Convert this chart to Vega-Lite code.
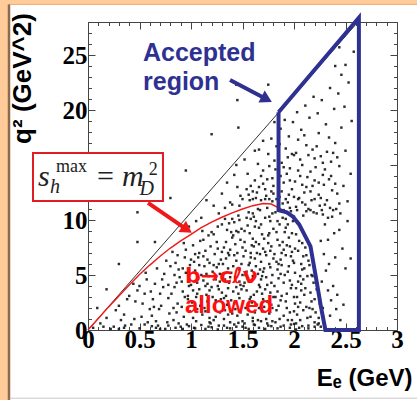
{
  "$schema": "https://vega.github.io/schema/vega-lite/v6.json",
  "width": 309,
  "height": 308,
  "autosize": "none",
  "padding": {"left": 88, "top": 22, "right": 20, "bottom": 70},
  "background": "white",
  "config": {"view": {"stroke": null}},
  "data": {"values": [{}]},
  "datasets": {
    "dots": [
      {"e":0.62,"q":1.3},{"e":0.65,"q":4.2},{"e":0.68,"q":0.4},{"e":0.63,"q":2.8},{"e":0.67,"q":5.6},{"e":0.61,"q":3.5},{"e":0.69,"q":1.9},{"e":0.66,"q":0.2},
      {"e":0.71,"q":2.2},{"e":0.74,"q":5.1},{"e":0.77,"q":0.7},{"e":0.73,"q":3.9},{"e":0.76,"q":6.3},{"e":0.79,"q":1.5},{"e":0.72,"q":4.6},{"e":0.78,"q":2.9},{"e":0.75,"q":0.1},{"e":0.8,"q":5.8},
      {"e":0.81,"q":3.3},{"e":0.83,"q":0.9},{"e":0.85,"q":6.1},{"e":0.87,"q":2.4},{"e":0.89,"q":4.8},{"e":0.82,"q":7.1},{"e":0.86,"q":1.6},{"e":0.88,"q":5.5},{"e":0.84,"q":3.9},{"e":0.9,"q":0.3},{"e":0.83,"q":2.0},{"e":0.87,"q":6.8},
      {"e":0.91,"q":4.4},{"e":0.93,"q":1.2},{"e":0.95,"q":7.3},{"e":0.97,"q":2.8},{"e":0.99,"q":5.9},{"e":0.92,"q":3.5},{"e":0.94,"q":6.6},{"e":0.96,"q":0.5},{"e":0.98,"q":4.0},{"e":0.91,"q":2.1},{"e":0.95,"q":5.2},{"e":0.99,"q":1.7},{"e":0.93,"q":7.9},{"e":0.97,"q":3.1},
      {"e":1.01,"q":2.5},{"e":1.03,"q":6.2},{"e":1.05,"q":0.8},{"e":1.07,"q":4.7},{"e":1.09,"q":8.1},{"e":1.02,"q":3.6},{"e":1.04,"q":5.4},{"e":1.06,"q":1.9},{"e":1.08,"q":7.0},{"e":1.0,"q":4.1},{"e":1.03,"q":0.2},{"e":1.05,"q":3.0},{"e":1.07,"q":6.6},{"e":1.09,"q":2.2},{"e":1.1,"q":5.0},{"e":1.02,"q":7.7},{"e":1.06,"q":4.3},
      {"e":1.11,"q":1.4},{"e":1.13,"q":5.8},{"e":1.15,"q":3.2},{"e":1.17,"q":8.6},{"e":1.19,"q":0.6},{"e":1.12,"q":4.5},{"e":1.14,"q":7.2},{"e":1.16,"q":2.6},{"e":1.18,"q":6.1},{"e":1.2,"q":3.9},{"e":1.11,"q":9.0},{"e":1.13,"q":2.0},{"e":1.15,"q":5.1},{"e":1.17,"q":0.3},{"e":1.19,"q":7.6},{"e":1.12,"q":6.7},{"e":1.16,"q":4.2},{"e":1.18,"q":1.1},
      {"e":1.21,"q":5.3},{"e":1.23,"q":2.1},{"e":1.25,"q":8.0},{"e":1.27,"q":3.7},{"e":1.29,"q":6.4},{"e":1.22,"q":0.9},{"e":1.24,"q":4.6},{"e":1.26,"q":9.4},{"e":1.28,"q":1.6},{"e":1.3,"q":7.1},{"e":1.21,"q":3.0},{"e":1.23,"q":6.9},{"e":1.25,"q":5.7},{"e":1.27,"q":0.4},{"e":1.29,"q":2.8},{"e":1.22,"q":8.7},{"e":1.24,"q":1.2},{"e":1.26,"q":4.0},{"e":1.28,"q":5.1},{"e":1.3,"q":3.4},
      {"e":1.31,"q":6.0},{"e":1.33,"q":1.8},{"e":1.35,"q":9.1},{"e":1.37,"q":4.3},{"e":1.39,"q":2.7},{"e":1.32,"q":7.5},{"e":1.34,"q":3.1},{"e":1.36,"q":5.6},{"e":1.38,"q":0.7},{"e":1.4,"q":8.4},{"e":1.31,"q":4.9},{"e":1.33,"q":10.1},{"e":1.35,"q":2.3},{"e":1.37,"q":6.8},{"e":1.39,"q":5.2},{"e":1.32,"q":1.0},{"e":1.34,"q":8.0},{"e":1.36,"q":3.8},{"e":1.38,"q":7.3},{"e":1.4,"q":1.5},{"e":1.35,"q":0.2},{"e":1.37,"q":9.7},
      {"e":1.41,"q":3.5},{"e":1.43,"q":7.8},{"e":1.45,"q":1.3},{"e":1.47,"q":5.5},{"e":1.49,"q":9.2},{"e":1.42,"q":2.4},{"e":1.44,"q":6.3},{"e":1.46,"q":10.4},{"e":1.48,"q":4.1},{"e":1.5,"q":0.8},{"e":1.41,"q":8.6},{"e":1.43,"q":4.8},{"e":1.45,"q":7.0},{"e":1.47,"q":2.9},{"e":1.49,"q":6.0},{"e":1.42,"q":9.8},{"e":1.44,"q":0.3},{"e":1.46,"q":3.3},{"e":1.48,"q":8.2},{"e":1.5,"q":5.0},{"e":1.43,"q":1.9},{"e":1.47,"q":10.0},{"e":1.49,"q":3.7},
      {"e":1.51,"q":6.7},{"e":1.53,"q":2.0},{"e":1.55,"q":9.5},{"e":1.57,"q":4.4},{"e":1.59,"q":7.7},{"e":1.52,"q":0.6},{"e":1.54,"q":5.3},{"e":1.56,"q":10.7},{"e":1.58,"q":3.0},{"e":1.6,"q":8.3},{"e":1.51,"q":4.0},{"e":1.53,"q":7.2},{"e":1.55,"q":1.4},{"e":1.57,"q":6.1},{"e":1.59,"q":2.5},{"e":1.52,"q":9.0},{"e":1.54,"q":3.6},{"e":1.56,"q":5.9},{"e":1.58,"q":10.1},{"e":1.6,"q":1.1},{"e":1.55,"q":4.7},{"e":1.57,"q":8.8},{"e":1.53,"q":0.2},{"e":1.59,"q":5.4},
      {"e":1.61,"q":3.2},{"e":1.63,"q":8.0},{"e":1.65,"q":5.1},{"e":1.67,"q":10.9},{"e":1.69,"q":1.7},{"e":1.62,"q":6.5},{"e":1.64,"q":2.3},{"e":1.66,"q":9.3},{"e":1.68,"q":4.6},{"e":1.7,"q":7.4},{"e":1.61,"q":0.5},{"e":1.63,"q":5.8},{"e":1.65,"q":11.0},{"e":1.67,"q":3.9},{"e":1.69,"q":8.7},{"e":1.62,"q":1.6},{"e":1.64,"q":7.0},{"e":1.66,"q":4.1},{"e":1.68,"q":6.2},{"e":1.7,"q":2.8},{"e":1.63,"q":9.9},{"e":1.65,"q":0.9},{"e":1.67,"q":6.9},{"e":1.69,"q":4.9},{"e":1.61,"q":10.3},
      {"e":1.71,"q":5.6},{"e":1.73,"q":1.0},{"e":1.75,"q":8.6},{"e":1.77,"q":3.4},{"e":1.79,"q":10.6},{"e":1.72,"q":7.1},{"e":1.74,"q":2.6},{"e":1.76,"q":6.0},{"e":1.78,"q":4.3},{"e":1.8,"q":9.2},{"e":1.71,"q":2.1},{"e":1.73,"q":6.8},{"e":1.75,"q":0.4},{"e":1.77,"q":9.9},{"e":1.79,"q":5.0},{"e":1.72,"q":3.7},{"e":1.74,"q":11.1},{"e":1.76,"q":1.5},{"e":1.78,"q":7.6},{"e":1.8,"q":3.0},{"e":1.73,"q":4.8},{"e":1.75,"q":7.9},{"e":1.77,"q":5.7},{"e":1.79,"q":0.8},{"e":1.71,"q":8.3},
      {"e":1.81,"q":4.0},{"e":1.83,"q":8.9},{"e":1.85,"q":2.2},{"e":1.87,"q":6.4},{"e":1.89,"q":10.2},{"e":1.82,"q":0.7},{"e":1.84,"q":5.5},{"e":1.86,"q":9.6},{"e":1.88,"q":3.1},{"e":1.9,"q":7.3},{"e":1.81,"q":6.9},{"e":1.83,"q":1.8},{"e":1.85,"q":4.7},{"e":1.87,"q":0.3},{"e":1.89,"q":8.0},{"e":1.82,"q":10.7},{"e":1.84,"q":3.5},{"e":1.86,"q":7.7},{"e":1.88,"q":5.9},{"e":1.9,"q":1.3},{"e":1.83,"q":6.2},{"e":1.87,"q":2.7},
      {"e":1.91,"q":5.0},{"e":1.93,"q":2.0},{"e":1.95,"q":8.4},{"e":1.97,"q":3.8},{"e":1.99,"q":9.9},{"e":1.92,"q":6.8},{"e":1.94,"q":0.9},{"e":1.96,"q":4.5},{"e":1.98,"q":7.1},{"e":2.0,"q":1.7},{"e":1.91,"q":8.9},{"e":1.93,"q":3.3},{"e":1.95,"q":5.8},{"e":1.97,"q":0.5},{"e":1.99,"q":6.3},{"e":1.92,"q":2.6},{"e":1.94,"q":9.6},{"e":1.96,"q":7.6},{"e":1.98,"q":4.1},{"e":2.0,"q":3.0},
      {"e":2.01,"q":5.2},{"e":2.03,"q":1.4},{"e":2.05,"q":8.1},{"e":2.07,"q":3.6},{"e":2.09,"q":6.7},{"e":2.02,"q":0.6},{"e":2.04,"q":4.4},{"e":2.06,"q":2.5},{"e":2.08,"q":7.9},{"e":2.1,"q":5.6},{"e":2.01,"q":7.4},{"e":2.03,"q":3.0},{"e":2.05,"q":0.2},{"e":2.07,"q":6.0},{"e":2.09,"q":1.8},{"e":2.02,"q":8.7},{"e":2.04,"q":2.1},{"e":2.06,"q":4.9},
      {"e":2.11,"q":3.8},{"e":2.13,"q":1.1},{"e":2.15,"q":5.9},{"e":2.17,"q":2.6},{"e":2.19,"q":4.3},{"e":2.12,"q":6.8},{"e":2.14,"q":0.4},{"e":2.16,"q":3.4},{"e":2.18,"q":1.9},{"e":2.2,"q":0.7},{"e":2.11,"q":7.5},{"e":2.13,"q":4.9},{"e":2.15,"q":2.0},{"e":2.17,"q":5.0},
      {"e":2.21,"q":1.6},{"e":2.23,"q":0.5},{"e":2.25,"q":2.4},{"e":2.22,"q":3.7},{"e":2.24,"q":1.1},{"e":2.26,"q":0.3},
      {"e":1.02,"q":1.1},{"e":1.04,"q":6.9},{"e":1.06,"q":3.3},{"e":1.08,"q":5.9},{"e":1.1,"q":2.8},{"e":1.12,"q":8.2},{"e":1.14,"q":1.7},{"e":1.16,"q":6.4},{"e":1.18,"q":3.6},{"e":1.2,"q":8.9},
      {"e":1.22,"q":5.9},{"e":1.24,"q":2.7},{"e":1.26,"q":7.4},{"e":1.28,"q":4.4},{"e":1.3,"q":9.6},{"e":1.32,"q":2.9},{"e":1.34,"q":6.5},{"e":1.36,"q":1.4},{"e":1.38,"q":4.8},{"e":1.4,"q":10.1},
      {"e":1.42,"q":6.8},{"e":1.44,"q":3.9},{"e":1.46,"q":8.9},{"e":1.48,"q":1.6},{"e":1.5,"q":7.5},{"e":1.52,"q":4.3},{"e":1.54,"q":10.2},{"e":1.56,"q":2.4},{"e":1.58,"q":6.6},{"e":1.6,"q":4.9},
      {"e":1.62,"q":9.4},{"e":1.64,"q":3.5},{"e":1.66,"q":7.8},{"e":1.68,"q":0.8},{"e":1.7,"q":5.3},{"e":1.72,"q":10.2},{"e":1.74,"q":4.1},{"e":1.76,"q":8.8},{"e":1.78,"q":2.3},{"e":1.8,"q":6.5},
      {"e":1.82,"q":3.0},{"e":1.84,"q":9.9},{"e":1.86,"q":1.0},{"e":1.88,"q":7.0},{"e":1.9,"q":4.3},{"e":1.92,"q":9.3},{"e":1.94,"q":5.3},{"e":1.96,"q":1.6},{"e":1.98,"q":8.8},{"e":2.0,"q":6.1},
      {"e":2.02,"q":3.8},{"e":2.04,"q":7.2},{"e":2.06,"q":0.9},{"e":2.08,"q":5.5},{"e":2.1,"q":3.2},{"e":2.12,"q":2.1},{"e":2.14,"q":6.3},{"e":2.16,"q":1.2},{"e":2.18,"q":4.9},{"e":2.2,"q":2.8},
      {"e":1.33,"q":4.6},{"e":1.41,"q":5.8},{"e":1.53,"q":5.0},{"e":1.61,"q":7.6},{"e":1.69,"q":3.3},{"e":1.77,"q":7.2},{"e":1.85,"q":6.0},{"e":1.93,"q":7.7},{"e":2.01,"q":2.4},{"e":2.09,"q":4.6},
      {"e":1.17,"q":4.9},{"e":1.27,"q":6.0},{"e":1.39,"q":8.9},{"e":1.47,"q":4.4},{"e":1.57,"q":2.8},{"e":1.67,"q":5.5},{"e":1.79,"q":2.0},{"e":1.87,"q":5.1},{"e":1.97,"q":6.7},{"e":2.07,"q":4.2},
      {"e":0.86,"q":4.3},{"e":0.94,"q":3.0},{"e":1.0,"q":6.4},{"e":0.92,"q":5.6},{"e":0.84,"q":5.0},{"e":0.78,"q":4.1},{"e":0.7,"q":3.3},{"e":0.64,"q":2.1},{"e":1.08,"q":3.7},{"e":1.14,"q":4.0},
      {"e":1.36,"q":7.0},{"e":1.44,"q":9.0},{"e":1.52,"q":8.0},{"e":1.6,"q":10.6},{"e":1.68,"q":9.6},{"e":1.76,"q":10.3},{"e":1.84,"q":8.2},{"e":1.92,"q":10.1},{"e":1.58,"q":7.0},{"e":1.66,"q":2.0},
      {"e":2.33,"q":8.2},{"e":2.36,"q":2.7},{"e":2.31,"q":5.4},{"e":2.4,"q":6.6},{"e":2.38,"q":4.0},{"e":2.44,"q":9.1},{"e":2.35,"q":1.3},{"e":2.29,"q":6.9},{"e":2.42,"q":3.2},{"e":2.47,"q":7.4},{"e":2.3,"q":9.6},{"e":2.37,"q":10.3},{"e":2.5,"q":5.6},{"e":2.33,"q":3.6},{"e":2.27,"q":4.4},{"e":2.45,"q":0.9},{"e":2.39,"q":8.8},{"e":2.52,"q":9.9},{"e":2.26,"q":8.1},{"e":2.41,"q":1.9},{"e":2.34,"q":6.0},{"e":2.48,"q":2.3},{"e":2.55,"q":6.5},{"e":2.28,"q":2.0},
      {"e":1.86,"q":12.1},{"e":1.9,"q":13.4},{"e":1.94,"q":11.6},{"e":1.98,"q":12.8},{"e":2.02,"q":11.2},{"e":2.06,"q":14.0},{"e":2.1,"q":12.5},{"e":2.14,"q":11.0},{"e":2.18,"q":13.1},{"e":2.22,"q":10.6},{"e":2.26,"q":12.0},{"e":2.3,"q":11.4},{"e":2.34,"q":13.7},{"e":2.38,"q":10.9},{"e":2.42,"q":12.4},
      {"e":1.88,"q":15.2},{"e":1.92,"q":16.5},{"e":1.96,"q":14.7},{"e":2.0,"q":15.9},{"e":2.04,"q":17.3},{"e":2.08,"q":15.0},{"e":2.12,"q":16.8},{"e":2.16,"q":14.4},{"e":2.2,"q":15.6},{"e":2.24,"q":17.9},{"e":2.28,"q":14.1},{"e":2.32,"q":16.2},{"e":2.36,"q":15.3},{"e":2.4,"q":17.0},{"e":2.44,"q":14.9},
      {"e":1.87,"q":18.3},{"e":1.91,"q":19.1},{"e":1.95,"q":17.6},{"e":1.99,"q":18.9},{"e":2.03,"q":19.8},{"e":2.07,"q":18.2},{"e":2.11,"q":20.4},{"e":2.15,"q":19.3},{"e":2.19,"q":21.2},{"e":2.23,"q":19.7},{"e":2.27,"q":20.9},{"e":2.31,"q":18.7},{"e":2.35,"q":22.0},{"e":2.39,"q":20.1},{"e":2.43,"q":21.5},
      {"e":1.85,"q":13.0},{"e":1.89,"q":11.5},{"e":1.93,"q":14.2},{"e":1.97,"q":10.8},{"e":2.01,"q":13.5},{"e":2.05,"q":12.0},{"e":2.09,"q":10.4},{"e":2.13,"q":13.9},{"e":2.17,"q":11.8},{"e":2.21,"q":14.8},{"e":2.25,"q":11.3},{"e":2.29,"q":13.2},{"e":2.33,"q":10.2},{"e":2.37,"q":12.7},{"e":2.41,"q":11.0},
      {"e":1.9,"q":10.9},{"e":1.95,"q":12.3},{"e":2.0,"q":10.3},{"e":2.04,"q":11.9},{"e":2.08,"q":13.2},{"e":2.12,"q":10.8},{"e":2.16,"q":12.6},{"e":2.2,"q":11.9},{"e":2.24,"q":13.4},{"e":2.28,"q":10.5},
      {"e":1.88,"q":12.6},{"e":1.92,"q":11.9},{"e":1.96,"q":13.6},{"e":2.0,"q":12.1},{"e":2.04,"q":14.5},{"e":2.08,"q":11.6},{"e":2.12,"q":13.0},{"e":2.16,"q":10.9},{"e":2.2,"q":13.6},{"e":2.24,"q":12.3},{"e":2.28,"q":15.2},{"e":2.32,"q":11.8},{"e":2.36,"q":14.0},{"e":2.4,"q":13.3},{"e":2.44,"q":11.5},{"e":1.9,"q":14.8},{"e":1.98,"q":16.0},{"e":2.06,"q":15.5},{"e":2.14,"q":15.9},{"e":2.22,"q":16.7},{"e":2.3,"q":14.6},{"e":2.38,"q":16.1},{"e":1.96,"q":11.1},{"e":2.03,"q":10.9},{"e":2.11,"q":11.4},{"e":2.19,"q":10.7},{"e":2.27,"q":10.9},{"e":2.35,"q":11.1},{"e":1.87,"q":14.0},{"e":2.42,"q":15.7},
      {"e":1.86,"q":16.9},{"e":1.94,"q":15.7},{"e":2.02,"q":16.1},{"e":2.1,"q":17.7},{"e":2.18,"q":16.4},{"e":2.26,"q":15.8},{"e":2.34,"q":17.5},{"e":2.46,"q":18.4},{"e":2.5,"q":16.3},{"e":2.48,"q":13.1},{"e":2.52,"q":11.7},{"e":2.45,"q":10.6},{"e":2.55,"q":14.2},{"e":2.49,"q":20.3},{"e":2.53,"q":22.5},{"e":2.46,"q":23.2},{"e":2.5,"q":24.1},{"e":2.56,"q":19.0},{"e":2.58,"q":25.3},{"e":2.44,"q":25.7},{"e":2.4,"q":24.0},
      {"e":1.22,"q":11.3},{"e":1.3,"q":12.4},{"e":1.38,"q":11.6},{"e":1.45,"q":13.0},{"e":1.5,"q":11.9},{"e":1.55,"q":14.2},{"e":1.6,"q":12.6},{"e":1.65,"q":15.1},{"e":1.7,"q":13.3},{"e":1.75,"q":16.0},{"e":1.8,"q":12.4},{"e":1.82,"q":14.6},{"e":1.78,"q":17.4},{"e":1.72,"q":11.9},{"e":1.68,"q":14.0},{"e":1.62,"q":16.3},{"e":1.58,"q":13.1},{"e":1.52,"q":15.5},{"e":1.48,"q":12.2},{"e":1.42,"q":14.1},
      {"e":1.35,"q":13.4},{"e":1.27,"q":10.6},{"e":1.33,"q":11.1},{"e":1.4,"q":11.4},{"e":1.47,"q":11.3},{"e":1.57,"q":11.8},{"e":1.63,"q":12.0},{"e":1.73,"q":12.2},{"e":1.79,"q":13.8},{"e":1.83,"q":16.7},{"e":1.76,"q":14.9},{"e":1.66,"q":13.0},{"e":1.54,"q":12.8},{"e":1.44,"q":15.0},{"e":1.1,"q":10.2},{"e":1.15,"q":11.8},{"e":1.05,"q":9.9},{"e":0.98,"q":9.4},{"e":1.7,"q":17.2},{"e":1.81,"q":18.9},
      {"e":1.6,"q":11.9},{"e":1.64,"q":12.5},{"e":1.68,"q":11.8},{"e":1.72,"q":12.8},{"e":1.76,"q":11.9},{"e":1.8,"q":13.1},{"e":1.83,"q":11.9},{"e":1.78,"q":12.6},{"e":1.7,"q":14.5},{"e":1.62,"q":13.6},{"e":1.74,"q":13.7},{"e":1.81,"q":15.4},{"e":1.56,"q":12.3},{"e":1.66,"q":16.4},{"e":1.79,"q":11.7},
      {"e":0.05,"q":0.2},{"e":0.12,"q":0.6},{"e":0.18,"q":1.1},{"e":0.25,"q":0.3},{"e":0.3,"q":2.2},{"e":0.35,"q":1.4},{"e":0.4,"q":3.1},{"e":0.42,"q":0.5},{"e":0.46,"q":2.6},{"e":0.5,"q":4.0},{"e":0.52,"q":1.2},{"e":0.55,"q":3.3},{"e":0.58,"q":0.7},{"e":0.32,"q":0.9},{"e":0.38,"q":2.8},{"e":0.27,"q":1.8},{"e":0.45,"q":1.0},{"e":0.48,"q":3.6},{"e":0.53,"q":2.4},{"e":0.57,"q":4.6},{"e":0.22,"q":0.1},{"e":0.15,"q":0.3},{"e":0.35,"q":0.2},{"e":0.6,"q":1.9},{"e":0.44,"q":4.2},{"e":0.56,"q":5.2},
      {"e":0.09,"q":2.0},{"e":0.18,"q":3.7},{"e":1.44,"q":22.3},{"e":1.45,"q":20.9},{"e":1.46,"q":18.4},{"e":1.75,"q":22.3},{"e":0.48,"q":10.7},{"e":0.48,"q":8.0},{"e":0.65,"q":8.0},{"e":0.95,"q":14.5},{"e":1.2,"q":17.8},{"e":0.8,"q":12.0},{"e":0.3,"q":6.0},
      {"e":0.3,"q":0.1},{"e":0.36,"q":0.4},{"e":0.5,"q":0.15},{"e":0.62,"q":0.35},{"e":0.7,"q":0.1},{"e":0.78,"q":0.4},{"e":0.85,"q":0.2},{"e":0.92,"q":0.1},{"e":0.98,"q":0.35},{"e":1.04,"q":0.15},{"e":1.1,"q":0.45},{"e":1.14,"q":0.1},{"e":1.2,"q":0.25},{"e":1.26,"q":0.05},{"e":1.32,"q":0.4},{"e":1.38,"q":0.15},{"e":1.42,"q":0.5},{"e":1.5,"q":0.3},{"e":1.56,"q":0.1},{"e":1.62,"q":0.45},
      {"e":1.66,"q":0.2},{"e":1.72,"q":0.1},{"e":1.78,"q":0.35},{"e":1.84,"q":0.15},{"e":1.9,"q":0.4},{"e":1.96,"q":0.2},{"e":2.02,"q":0.05},{"e":2.08,"q":0.35},{"e":2.14,"q":0.15},{"e":2.2,"q":0.3},{"e":2.24,"q":0.6},{"e":0.55,"q":0.5},{"e":0.88,"q":0.6},{"e":1.18,"q":0.7},{"e":1.46,"q":0.65},{"e":1.74,"q":0.6},{"e":2.0,"q":0.55},{"e":0.66,"q":0.8},{"e":1.6,"q":0.8},{"e":1.98,"q":0.9}
    ],
    "diag": [{"e":0,"q":0},{"e":2.62,"q":28}],
    "red": [
      {"i":0,"e":0,"q":0},{"i":1,"e":0.1,"q":1.05},{"i":2,"e":0.2,"q":2.1},{"i":3,"e":0.3,"q":3.1},{"i":4,"e":0.4,"q":4.1},{"i":5,"e":0.5,"q":5.05},{"i":6,"e":0.6,"q":5.9},{"i":7,"e":0.7,"q":6.7},{"i":8,"e":0.8,"q":7.45},{"i":9,"e":0.9,"q":8.1},{"i":10,"e":1.0,"q":8.7},{"i":11,"e":1.1,"q":9.3},{"i":12,"e":1.2,"q":9.8},{"i":13,"e":1.3,"q":10.25},{"i":14,"e":1.4,"q":10.65},{"i":15,"e":1.5,"q":11.0},{"i":16,"e":1.6,"q":11.3},{"i":17,"e":1.7,"q":11.5},{"i":18,"e":1.78,"q":11.45},{"i":19,"e":1.85,"q":11.1},{"i":20,"e":1.93,"q":10.75},{"i":21,"e":1.99,"q":10.35},{"i":22,"e":2.05,"q":9.65},{"i":23,"e":2.1,"q":8.75},{"i":24,"e":2.16,"q":7.6},{"i":25,"e":2.19,"q":6.0},{"i":26,"e":2.22,"q":4.4},{"i":27,"e":2.26,"q":2.2},{"i":28,"e":2.3,"q":0}
    ],
    "blue": [
      {"i":0,"e":1.85,"q":19.8},{"i":1,"e":2.63,"q":28.4},{"i":2,"e":2.63,"q":0},{"i":3,"e":2.305,"q":0},{"i":4,"e":2.26,"q":2.2},{"i":5,"e":2.22,"q":4.4},{"i":6,"e":2.19,"q":6.0},{"i":7,"e":2.16,"q":7.6},{"i":8,"e":2.1,"q":8.7},{"i":9,"e":2.05,"q":9.6},{"i":10,"e":1.99,"q":10.3},{"i":11,"e":1.93,"q":10.7},{"i":12,"e":1.85,"q":10.9},{"i":13,"e":1.85,"q":19.8}
    ],
    "bluearrow": [{"i":0,"e":1.379,"q":22.73},{"i":1,"e":1.735,"q":20.98}],
    "redarrow": [{"i":0,"e":0.583,"q":11.55},{"i":1,"e":0.961,"q":9.13}]
  },
  "resolve": {"axis": {"x": "independent", "y": "independent"}},
  "layer": [
    {
      "mark": {"type": "rect", "fill": "#FFCC99"},
      "encoding": {
        "x": {"datum": -0.86, "type": "quantitative", "scale": {"domain": [0, 3], "nice": false, "zero": false}, "axis": null},
        "x2": {"datum": 3.3},
        "y": {"datum": 30.2, "type": "quantitative", "scale": {"domain": [0, 28], "nice": false, "zero": false}, "axis": null},
        "y2": {"datum": 29.62}
      }
    },
    {
      "mark": {"type": "rect", "fill": "#FFCC99"},
      "encoding": {
        "x": {"datum": -0.86, "type": "quantitative", "scale": {"domain": [0, 3], "nice": false, "zero": false}, "axis": null},
        "x2": {"datum": -0.772},
        "y": {"datum": 30.2, "type": "quantitative", "scale": {"domain": [0, 28], "nice": false, "zero": false}, "axis": null},
        "y2": {"datum": -6.5}
      }
    },
    {
      "mark": {"type": "rule", "color": "#EBA870", "strokeWidth": 1},
      "encoding": {
        "x": {"datum": -0.772, "type": "quantitative", "scale": {"domain": [0, 3], "nice": false, "zero": false}, "axis": null},
        "x2": {"datum": 3.3},
        "y": {"datum": 29.6, "type": "quantitative", "scale": {"domain": [0, 28], "nice": false, "zero": false}, "axis": null}
      }
    },
    {
      "mark": {"type": "rule", "color": "#8C6A4A", "strokeWidth": 2.5},
      "encoding": {
        "x": {"datum": -0.767, "type": "quantitative", "scale": {"domain": [0, 3], "nice": false, "zero": false}, "axis": null},
        "y": {"datum": 29.6, "type": "quantitative", "scale": {"domain": [0, 28], "nice": false, "zero": false}, "axis": null},
        "y2": {"datum": -6.5}
      }
    },
    {
      "mark": {"type": "rule", "color": "#C8C8C8", "strokeWidth": 1},
      "encoding": {
        "x": {"datum": -0.76, "type": "quantitative", "scale": {"domain": [0, 3], "nice": false, "zero": false}, "axis": null},
        "x2": {"datum": 3.3},
        "y": {"datum": -6.2, "type": "quantitative", "scale": {"domain": [0, 28], "nice": false, "zero": false}, "axis": null}
      }
    },
    {
      "data": {"name": "dots"},
      "mark": {"type": "point", "shape": "square", "filled": true, "size": 6, "color": "#151515", "opacity": 0.9, "strokeWidth": 0},
      "encoding": {
        "x": {"field": "e", "type": "quantitative", "scale": {"domain": [0, 3], "nice": false, "zero": false},
          "axis": {"orient": "bottom", "values": [0,0.1,0.2,0.3,0.4,0.5,0.6,0.7,0.8,0.9,1,1.1,1.2,1.3,1.4,1.5,1.6,1.7,1.8,1.9,2,2.1,2.2,2.3,2.4,2.5,2.6,2.7,2.8,2.9,3],
            "labelExpr": "round(datum.value*10) % 5 == 0 ? format(datum.value, '~g') : ''",
            "tickSize": {"condition": {"test": "round(datum.value*10) % 5 == 0", "value": -7}, "value": -3.5},
            "labelFont": "Liberation Serif", "labelFontWeight": "bold", "labelFontSize": 25, "labelColor": "#000", "labelPadding": 4, "labelFlush": false, "labelOverlap": false, "labelBound": false,
            "domainColor": "#444", "tickColor": "#444", "grid": false,
            "title": "Eₑ (GeV)", "titleFont": "Liberation Sans", "titleFontSize": 24, "titleFontWeight": "bold", "titleColor": "#000", "titleX": 324, "titleY": 55, "titleAlign": "right", "titleBaseline": "alphabetic"}},
        "y": {"field": "q", "type": "quantitative", "scale": {"domain": [0, 28], "nice": false, "zero": false},
          "axis": {"orient": "left", "values": [0,1,2,3,4,5,6,7,8,9,10,11,12,13,14,15,16,17,18,19,20,21,22,23,24,25,26,27,28],
            "labelExpr": "datum.value % 5 == 0 ? datum.label : ''",
            "tickSize": {"condition": {"test": "datum.value % 5 == 0", "value": -7}, "value": -3.5},
            "labelFont": "Liberation Serif", "labelFontWeight": "bold", "labelFontSize": 25, "labelColor": "#000", "labelPadding": 8, "labelFlush": false, "labelOverlap": false, "labelBound": false,
            "domainColor": "#444", "tickColor": "#444", "grid": false,
            "title": "q² (GeV^2)", "titleFont": "Liberation Sans", "titleFontSize": 26, "titleFontWeight": "bold", "titleColor": "#000", "titleX": -66, "titleY": 56, "titleAlign": "center", "titleBaseline": "middle", "titleAngle": 270}}
      }
    },
    {
      "data": {"name": "diag"},
      "mark": {"type": "line", "color": "#333", "strokeWidth": 1},
      "encoding": {
        "x": {"field": "e", "type": "quantitative", "scale": {"domain": [0, 3], "nice": false, "zero": false},
          "axis": {"orient": "top", "values": [0,0.1,0.2,0.3,0.4,0.5,0.6,0.7,0.8,0.9,1,1.1,1.2,1.3,1.4,1.5,1.6,1.7,1.8,1.9,2,2.1,2.2,2.3,2.4,2.5,2.6,2.7,2.8,2.9,3],
            "labels": false, "title": null, "grid": false, "domainColor": "#444", "tickColor": "#444",
            "tickSize": {"condition": {"test": "round(datum.value*10) % 5 == 0", "value": -7}, "value": -3.5}}},
        "y": {"field": "q", "type": "quantitative", "scale": {"domain": [0, 28], "nice": false, "zero": false},
          "axis": {"orient": "right", "values": [0,1,2,3,4,5,6,7,8,9,10,11,12,13,14,15,16,17,18,19,20,21,22,23,24,25,26,27,28],
            "labels": false, "title": null, "grid": false, "domainColor": "#444", "tickColor": "#444",
            "tickSize": {"condition": {"test": "datum.value % 5 == 0", "value": -7}, "value": -3.5}}}
      }
    },
    {
      "data": {"name": "red"},
      "mark": {"type": "line", "color": "#F01818", "strokeWidth": 1.4},
      "encoding": {
        "x": {"field": "e", "type": "quantitative", "scale": {"domain": [0, 3], "nice": false, "zero": false}, "axis": null},
        "y": {"field": "q", "type": "quantitative", "scale": {"domain": [0, 28], "nice": false, "zero": false}, "axis": null},
        "order": {"field": "i", "type": "quantitative"}
      }
    },
    {
      "data": {"name": "blue"},
      "mark": {"type": "line", "color": "#2E3192", "strokeWidth": 4, "strokeJoin": "miter"},
      "encoding": {
        "x": {"field": "e", "type": "quantitative", "scale": {"domain": [0, 3], "nice": false, "zero": false}, "axis": null},
        "y": {"field": "q", "type": "quantitative", "scale": {"domain": [0, 28], "nice": false, "zero": false}, "axis": null},
        "order": {"field": "i", "type": "quantitative"}
      }
    },
    {
      "data": {"name": "bluearrow"},
      "mark": {"type": "line", "color": "#2E3192", "strokeWidth": 4},
      "encoding": {
        "x": {"field": "e", "type": "quantitative", "scale": {"domain": [0, 3], "nice": false, "zero": false}, "axis": null},
        "y": {"field": "q", "type": "quantitative", "scale": {"domain": [0, 28], "nice": false, "zero": false}, "axis": null},
        "order": {"field": "i", "type": "quantitative"}
      }
    },
    {
      "mark": {"type": "point", "shape": "triangle-right", "filled": true, "color": "#2E3192", "size": 180, "angle": 28, "opacity": 1},
      "encoding": {
        "x": {"datum": 1.735, "type": "quantitative", "scale": {"domain": [0, 3], "nice": false, "zero": false}, "axis": null},
        "y": {"datum": 20.98, "type": "quantitative", "scale": {"domain": [0, 28], "nice": false, "zero": false}, "axis": null}
      }
    },
    {
      "data": {"name": "redarrow"},
      "mark": {"type": "line", "color": "#F01818", "strokeWidth": 4},
      "encoding": {
        "x": {"field": "e", "type": "quantitative", "scale": {"domain": [0, 3], "nice": false, "zero": false}, "axis": null},
        "y": {"field": "q", "type": "quantitative", "scale": {"domain": [0, 28], "nice": false, "zero": false}, "axis": null},
        "order": {"field": "i", "type": "quantitative"}
      }
    },
    {
      "mark": {"type": "point", "shape": "triangle-right", "filled": true, "color": "#F01818", "size": 180, "angle": 34, "opacity": 1},
      "encoding": {
        "x": {"datum": 0.961, "type": "quantitative", "scale": {"domain": [0, 3], "nice": false, "zero": false}, "axis": null},
        "y": {"datum": 9.13, "type": "quantitative", "scale": {"domain": [0, 28], "nice": false, "zero": false}, "axis": null}
      }
    },
    {
      "mark": {"type": "rect", "fill": "white", "stroke": "#E21C23", "strokeWidth": 2},
      "encoding": {
        "x": {"datum": -0.534, "type": "quantitative", "scale": {"domain": [0, 3], "nice": false, "zero": false}, "axis": null},
        "x2": {"datum": 0.728},
        "y": {"datum": 16.09, "type": "quantitative", "scale": {"domain": [0, 28], "nice": false, "zero": false}, "axis": null},
        "y2": {"datum": 11.73}
      }
    },
    {
      "mark": {"type": "text", "text": "s", "font": "Liberation Serif", "fontStyle": "italic", "fontSize": 30, "align": "left", "baseline": "alphabetic", "color": "#222"},
      "encoding": {
        "x": {"datum": -0.485, "type": "quantitative", "scale": {"domain": [0, 3], "nice": false, "zero": false}, "axis": null},
        "y": {"datum": 13.09, "type": "quantitative", "scale": {"domain": [0, 28], "nice": false, "zero": false}, "axis": null}
      }
    },
    {
      "mark": {"type": "text", "text": "h", "font": "Liberation Serif", "fontStyle": "italic", "fontSize": 20, "align": "left", "baseline": "alphabetic", "color": "#222"},
      "encoding": {
        "x": {"datum": -0.369, "type": "quantitative", "scale": {"domain": [0, 3], "nice": false, "zero": false}, "axis": null},
        "y": {"datum": 12.45, "type": "quantitative", "scale": {"domain": [0, 28], "nice": false, "zero": false}, "axis": null}
      }
    },
    {
      "mark": {"type": "text", "text": "max", "font": "Liberation Serif", "fontSize": 18, "align": "left", "baseline": "alphabetic", "color": "#222"},
      "encoding": {
        "x": {"datum": -0.311, "type": "quantitative", "scale": {"domain": [0, 3], "nice": false, "zero": false}, "axis": null},
        "y": {"datum": 14.36, "type": "quantitative", "scale": {"domain": [0, 28], "nice": false, "zero": false}, "axis": null}
      }
    },
    {
      "mark": {"type": "text", "text": "=", "font": "Liberation Serif", "fontSize": 30, "align": "left", "baseline": "alphabetic", "color": "#222"},
      "encoding": {
        "x": {"datum": 0.087, "type": "quantitative", "scale": {"domain": [0, 3], "nice": false, "zero": false}, "axis": null},
        "y": {"datum": 13.09, "type": "quantitative", "scale": {"domain": [0, 28], "nice": false, "zero": false}, "axis": null}
      }
    },
    {
      "mark": {"type": "text", "text": "m", "font": "Liberation Serif", "fontStyle": "italic", "fontSize": 30, "align": "left", "baseline": "alphabetic", "color": "#222"},
      "encoding": {
        "x": {"datum": 0.33, "type": "quantitative", "scale": {"domain": [0, 3], "nice": false, "zero": false}, "axis": null},
        "y": {"datum": 13.09, "type": "quantitative", "scale": {"domain": [0, 28], "nice": false, "zero": false}, "axis": null}
      }
    },
    {
      "mark": {"type": "text", "text": "D", "font": "Liberation Serif", "fontStyle": "italic", "fontSize": 20, "align": "left", "baseline": "alphabetic", "color": "#222"},
      "encoding": {
        "x": {"datum": 0.5, "type": "quantitative", "scale": {"domain": [0, 3], "nice": false, "zero": false}, "axis": null},
        "y": {"datum": 12.27, "type": "quantitative", "scale": {"domain": [0, 28], "nice": false, "zero": false}, "axis": null}
      }
    },
    {
      "mark": {"type": "text", "text": "2", "font": "Liberation Serif", "fontSize": 18, "align": "left", "baseline": "alphabetic", "color": "#222"},
      "encoding": {
        "x": {"datum": 0.59, "type": "quantitative", "scale": {"domain": [0, 3], "nice": false, "zero": false}, "axis": null},
        "y": {"datum": 14.1, "type": "quantitative", "scale": {"domain": [0, 28], "nice": false, "zero": false}, "axis": null}
      }
    },
    {
      "mark": {"type": "text", "text": ["Accepted", "region"], "font": "Liberation Sans", "fontWeight": "bold", "fontSize": 25, "lineHeight": 29, "align": "left", "baseline": "alphabetic", "color": "#2E3192"},
      "encoding": {
        "x": {"datum": 0.534, "type": "quantitative", "scale": {"domain": [0, 3], "nice": false, "zero": false}, "axis": null},
        "y": {"datum": 24.5, "type": "quantitative", "scale": {"domain": [0, 28], "nice": false, "zero": false}, "axis": null}
      }
    },
    {
      "mark": {"type": "text", "text": "b→cℓν", "font": "DejaVu Sans", "fontWeight": "bold", "fontSize": 22, "align": "left", "baseline": "alphabetic", "color": "#FF1010"},
      "encoding": {
        "x": {"datum": 0.942, "type": "quantitative", "scale": {"domain": [0, 3], "nice": false, "zero": false}, "axis": null},
        "y": {"datum": 4.27, "type": "quantitative", "scale": {"domain": [0, 28], "nice": false, "zero": false}, "axis": null}
      }
    },
    {
      "mark": {"type": "text", "text": "allowed", "font": "Liberation Sans", "fontWeight": "bold", "fontSize": 24, "align": "left", "baseline": "alphabetic", "color": "#FF1010"},
      "encoding": {
        "x": {"datum": 0.942, "type": "quantitative", "scale": {"domain": [0, 3], "nice": false, "zero": false}, "axis": null},
        "y": {"datum": 1.55, "type": "quantitative", "scale": {"domain": [0, 28], "nice": false, "zero": false}, "axis": null}
      }
    }
  ]
}
